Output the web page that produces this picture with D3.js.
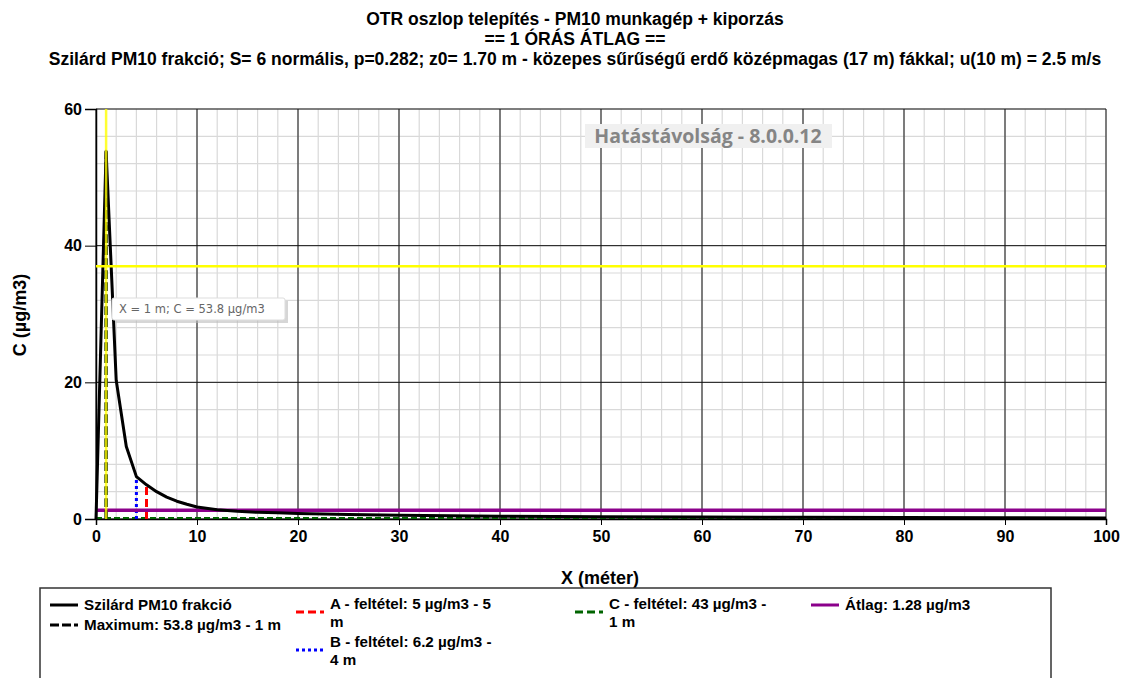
<!DOCTYPE html>
<html>
<head>
<meta charset="utf-8">
<script src="https://cdn.jsdelivr.net/npm/d3@7/dist/d3.min.js"></script>
<style>
  body { margin: 0; background: #fff; }
  svg { font-family: "Liberation Sans", Arial, sans-serif; }
</style>
</head>
<body>
<script>
// data
var xValues = [0, 1, 2, 3, 4, 5, 6, 7, 8, 9, 10, 12, 14, 16, 18, 20, 25, 30, 40, 50, 60, 70, 80, 90, 100];
var cValues = [0, 53.8, 20.3, 10.6, 6.2, 5.0, 4.0, 3.2, 2.6, 2.15, 1.75, 1.35, 1.12, 0.98, 0.9, 0.82, 0.66, 0.55, 0.42, 0.34, 0.28, 0.24, 0.21, 0.18, 0.16];
var xTicks = [0, 10, 20, 30, 40, 50, 60, 70, 80, 90, 100];
var yTicks = [0, 20, 40, 60];
var maxPoint = {x: 1, c: 53.8};
var condA = {x: 5, c: 5};
var condB = {x: 4, c: 6.2};
var condC = {x: 1, c: 43};
var average = 1.28;
var yellowLevel = 37;

var titleLines = [
  "OTR oszlop telepítés - PM10 munkagép + kiporzás",
  "== 1 ÓRÁS ÁTLAG ==",
  "Szilárd PM10 frakció; S= 6 normális, p=0.282; z0= 1.70 m - közepes sűrűségű erdő középmagas (17 m) fákkal; u(10 m) = 2.5 m/s"
];

var W = 1121, H = 678;
var plot = {left: 96, right: 1106, top: 109, bottom: 519};

var svg = d3.select("body").append("svg")
  .attr("width", W).attr("height", H);

var x = d3.scaleLinear().domain([0, 100]).range([plot.left, plot.right]);
var y = d3.scaleLinear().domain([0, 60]).range([plot.bottom, plot.top]);

// titles
svg.selectAll("text.title").data(titleLines).enter().append("text")
  .attr("class", "title")
  .attr("x", 575).attr("y", function(d, i) { return 25 + i * 20; })
  .attr("text-anchor", "middle")
  .style("font-size", "17.5px").style("font-weight", "bold")
  .text(function(d) { return d; });

// minor grid
svg.append("g").selectAll("line").data(d3.range(0, 101, 2)).enter().append("line")
  .attr("x1", function(d) { return x(d); }).attr("x2", function(d) { return x(d); })
  .attr("y1", plot.top).attr("y2", plot.bottom)
  .style("stroke", "#d9d9d9").style("stroke-width", 1.2);
svg.append("g").selectAll("line").data(d3.range(0, 61, 4)).enter().append("line")
  .attr("x1", plot.left).attr("x2", plot.right)
  .attr("y1", function(d) { return y(d); }).attr("y2", function(d) { return y(d); })
  .style("stroke", "#d9d9d9").style("stroke-width", 1.2);

// major grid
svg.append("g").selectAll("line").data(xTicks).enter().append("line")
  .attr("x1", function(d) { return x(d); }).attr("x2", function(d) { return x(d); })
  .attr("y1", plot.top).attr("y2", plot.bottom)
  .style("stroke", "#111").style("stroke-width", 1);
svg.append("g").selectAll("line").data(yTicks).enter().append("line")
  .attr("x1", plot.left).attr("x2", plot.right)
  .attr("y1", function(d) { return y(d); }).attr("y2", function(d) { return y(d); })
  .style("stroke", "#111").style("stroke-width", 1);

// axes
var xAxis = svg.append("g").attr("transform", "translate(0," + plot.bottom + ")")
  .call(d3.axisBottom(x).tickValues(xTicks).tickSize(6).tickPadding(6));
var yAxis = svg.append("g").attr("transform", "translate(" + plot.left + ",0)")
  .call(d3.axisLeft(y).tickValues(yTicks).tickSize(11).tickPadding(3));
[xAxis, yAxis].forEach(function(a) {
  a.select(".domain").style("stroke", "#000").style("stroke-width", 1.5);
  a.selectAll(".tick line").style("stroke", "#000");
  a.selectAll("text").style("font-size", "16px").style("font-weight", "bold")
    .style("font-family", "'Liberation Sans', Arial, sans-serif").style("fill", "#000");
});

svg.append("text").attr("x", 600).attr("y", 584).attr("text-anchor", "middle")
  .style("font-size", "18px").style("font-weight", "bold").text("X (méter)");
svg.append("text").attr("transform", "translate(26,315) rotate(-90)")
  .attr("text-anchor", "middle")
  .style("font-size", "18px").style("font-weight", "bold").text("C (µg/m3)");

// watermark
svg.append("rect").attr("x", 585).attr("y", 124).attr("width", 247).attr("height", 24)
  .style("fill", "#f0f0f0");
svg.append("text").attr("x", 708).attr("y", 143).attr("text-anchor", "middle")
  .style("font-weight", "bold").style("fill", "#858585")
  .style("font-family", "'Open Sans', 'DejaVu Sans', sans-serif")
  .style("font-size", "19.5px")
  .text("Hatástávolság - 8.0.0.12");

// condition lines
svg.append("line").attr("x1", x(0)).attr("x2", x(100))
  .attr("y1", y(0) - 1).attr("y2", y(0) - 1)
  .style("stroke", "#006400").style("stroke-width", 2).style("stroke-dasharray", "6,3");
svg.append("line").attr("x1", x(condC.x)).attr("x2", x(condC.x))
  .attr("y1", y(0)).attr("y2", y(condC.c))
  .style("stroke", "#006400").style("stroke-width", 3).style("stroke-dasharray", "8,4");
svg.append("line").attr("x1", x(condB.x)).attr("x2", x(condB.x))
  .attr("y1", y(0)).attr("y2", y(condB.c))
  .style("stroke", "#0000ff").style("stroke-width", 3).style("stroke-dasharray", "3,3");
svg.append("line").attr("x1", x(condA.x)).attr("x2", x(condA.x))
  .attr("y1", y(0)).attr("y2", y(condA.c))
  .style("stroke", "#ff0000").style("stroke-width", 3).style("stroke-dasharray", "8,4");

// average
svg.append("line").attr("x1", x(0)).attr("x2", x(100))
  .attr("y1", y(average)).attr("y2", y(average))
  .style("stroke", "#8b008b").style("stroke-width", 3.5);

// curve
var line = d3.line().x(function(d, i) { return x(xValues[i]); }).y(function(d) { return y(d); });
svg.append("path").datum(cValues).attr("d", line)
  .style("fill", "none").style("stroke", "#000").style("stroke-width", 3)
  .style("stroke-linejoin", "round");

// maximum marker
svg.append("line").attr("x1", x(maxPoint.x)).attr("x2", x(maxPoint.x))
  .attr("y1", y(0)).attr("y2", y(maxPoint.c))
  .style("stroke", "#000").style("stroke-width", 3).style("stroke-dasharray", "9,3");
svg.append("line").attr("x1", x(maxPoint.x)).attr("x2", x(maxPoint.x))
  .attr("y1", y(0)).attr("y2", y(60))
  .style("stroke", "#ffff00").style("stroke-width", 2.5).style("opacity", 0.8);
svg.append("line").attr("x1", x(0)).attr("x2", x(100))
  .attr("y1", y(yellowLevel)).attr("y2", y(yellowLevel))
  .style("stroke", "#ffff00").style("stroke-width", 2.5);

// tooltip
var tip = svg.append("g").attr("transform", "translate(112,298)");
tip.append("rect").attr("x", 3).attr("y", 3).attr("width", 173).attr("height", 22)
  .style("fill", "#bbb").style("opacity", 0.6);
tip.append("rect").attr("width", 173).attr("height", 22).attr("rx", 2)
  .style("fill", "#fff").style("stroke", "#ddd");
tip.append("text").attr("x", 7).attr("y", 15)
  .style("fill", "#666")
  .style("font-family", "'DejaVu Sans', sans-serif").style("font-size", "11.5px")
  .text("X = 1 m;  C = " + maxPoint.c + " µg/m3");

// legend
svg.append("rect").attr("x", 40).attr("y", 588).attr("width", 1011).attr("height", 100)
  .style("fill", "#fff").style("stroke", "#333").style("stroke-width", 1.5);

var legendItems = [
  {x: 50, y: 605, color: "#000", dash: null, lines: ["Szilárd PM10 frakció"]},
  {x: 50, y: 625, color: "#000", dash: "9,3", lines: ["Maximum: " + maxPoint.c + " µg/m3 - " + maxPoint.x + " m"]},
  {x: 296, y: 604, color: "#ff0000", dash: "8,4", lines: ["A - feltétel: " + condA.c + " µg/m3 - " + condA.x, "m"]},
  {x: 296, y: 642, color: "#0000ff", dash: "3,3", lines: ["B - feltétel: " + condB.c + " µg/m3 -", condB.x + " m"]},
  {x: 575, y: 604, color: "#006400", dash: "8,4", lines: ["C - feltétel: " + condC.c + " µg/m3 -", condC.x + " m"]},
  {x: 811, y: 605, color: "#8b008b", dash: null, lines: ["Átlag: " + average + " µg/m3"]}
];
var lg = svg.selectAll("g.leg").data(legendItems).enter().append("g")
  .attr("class", "leg")
  .attr("transform", function(d) { return "translate(" + d.x + "," + d.y + ")"; });
lg.append("line")
  .attr("x1", 0).attr("x2", 28)
  .attr("y1", function(d) { return d.lines.length > 1 ? 8 : 0; })
  .attr("y2", function(d) { return d.lines.length > 1 ? 8 : 0; })
  .style("stroke", function(d) { return d.color; }).style("stroke-width", 3)
  .style("stroke-dasharray", function(d) { return d.dash; });
lg.each(function(d) {
  var g = d3.select(this);
  d.lines.forEach(function(t, i) {
    g.append("text").attr("x", 34).attr("y", 5 + i * 18)
      .style("font-size", "15.2px").style("font-weight", "bold").text(t);
  });
});
</script>
</body>
</html>
